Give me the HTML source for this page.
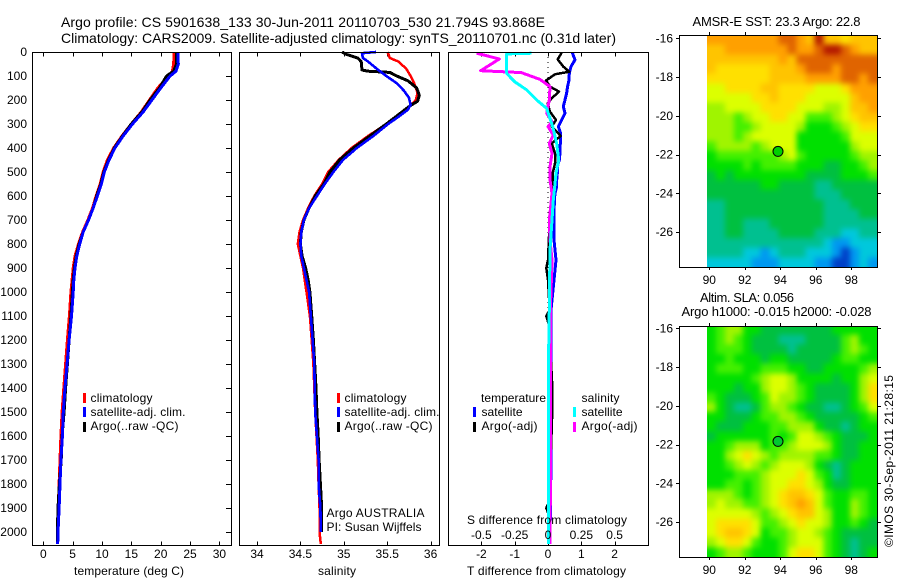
<!DOCTYPE html>
<html><head><meta charset="utf-8"><title>Argo profile</title>
<style>
html,body{margin:0;padding:0;background:#fff}
svg{display:block}
text{font-family:"Liberation Sans",Arial,sans-serif;font-size:12px;fill:#000}
.t{font-size:14px}.m{font-size:13px}
</style></head><body>
<svg id="chart" xmlns="http://www.w3.org/2000/svg" width="900" height="580" viewBox="0 0 900 580">
<defs>
<filter id="mapSmooth" filterUnits="userSpaceOnUse" x="660" y="0" width="240" height="580" color-interpolation-filters="sRGB"><feGaussianBlur stdDeviation="3"/></filter>
</defs>
<text class="t" x="61" y="27" textLength="484" lengthAdjust="spacing">Argo profile: CS 5901638_133 30-Jun-2011 20110703_530 21.794S 93.868E</text>
<text class="t" x="61" y="43" textLength="555" lengthAdjust="spacing">Climatology: CARS2009. Satellite-adjusted climatology: synTS_20110701.nc (0.31d later)</text>
<text x="74" y="575" textLength="110" lengthAdjust="spacing">temperature (deg C)</text>
<text x="318" y="575" textLength="38" lengthAdjust="spacing">salinity</text>
<text x="467" y="575" textLength="159" lengthAdjust="spacing">T difference from climatology</text>
<text x="467" y="524" textLength="160" lengthAdjust="spacing">S difference from climatology</text>
<text x="90.5" y="402" textLength="62" lengthAdjust="spacing">climatology</text>
<text x="90.5" y="416" textLength="95" lengthAdjust="spacing">satellite-adj. clim.</text>
<text x="90.5" y="430" textLength="88" lengthAdjust="spacing">Argo(..raw -QC)</text>
<text x="344.5" y="402" textLength="62" lengthAdjust="spacing">climatology</text>
<text x="344.5" y="416" textLength="95" lengthAdjust="spacing">satellite-adj. clim.</text>
<text x="344.5" y="430" textLength="88" lengthAdjust="spacing">Argo(..raw -QC)</text>
<text x="326.5" y="517" textLength="98" lengthAdjust="spacing">Argo AUSTRALIA</text>
<text x="326.5" y="531" textLength="95" lengthAdjust="spacing">PI: Susan Wijffels</text>
<text x="481" y="402" textLength="65" lengthAdjust="spacing">temperature</text>
<text x="481.5" y="416" textLength="41" lengthAdjust="spacing">satellite</text>
<text x="481.5" y="430" textLength="56" lengthAdjust="spacing">Argo(-adj)</text>
<text x="581.5" y="402" textLength="38" lengthAdjust="spacing">salinity</text>
<text x="581.5" y="416" textLength="41" lengthAdjust="spacing">satellite</text>
<text x="581.5" y="430" textLength="56" lengthAdjust="spacing">Argo(-adj)</text>
<text class="m" x="692.5" y="26" textLength="168" lengthAdjust="spacing">AMSR-E SST: 23.3 Argo: 22.8</text>
<text class="m" x="700" y="302" textLength="94" lengthAdjust="spacing">Altim. SLA: 0.056</text>
<text class="m" x="681.5" y="316" textLength="190" lengthAdjust="spacing">Argo h1000: -0.015 h2000: -0.028</text>
<text x="0" y="0" transform="translate(893,547) rotate(-90)" textLength="172" lengthAdjust="spacing">©IMOS 30-Sep-2011 21:28:15</text>
</svg>
<script>
// ---- axis data ----
const depthTicks = [0,100,200,300,400,500,600,700,800,900,1000,1100,1200,1300,1400,1500,1600,1700,1800,1900,2000];
const tempTicks = [0,5,10,15,20,25,30];
const salTicks = [34,34.5,35,35.5,36];
const tDiffTicks = [-2,-1,0,1,2];
const sDiffTicks = [-0.5,-0.25,0,0.25,0.5];
const sDiffTickLabels = ['-0.5','-0.25','0','0.25','0.5'];
const mapLonTicks = [90,92,94,96,98];
const mapLatTicks = [-16,-18,-20,-22,-24,-26];
const argoLon = 93.868;
const argoLat = -21.794;

// ---- temperature profile ----
const tempDepths = [0,50,80,100,150,200,250,300,350,400,450,500,550,600,650,700,750,800,850,900,950,1000,1100,1200,1300,1400,1500,1600,1700,1800,1900,2000,2050];
const tempClim = [22.3,22.2,22.0,21.3,19.5,18.1,16.7,15.0,13.4,12.0,10.9,10.2,9.7,9.0,8.4,7.6,6.7,6.0,5.4,5.1,4.9,4.7,4.45,4.1,3.8,3.5,3.2,3.0,2.85,2.7,2.55,2.45,2.4];
const tempArgo = [22.7,22.7,22.2,21.0,19.8,18.2,16.8,15.0,13.5,12.1,11.1,10.3,9.8,9.1,8.5,7.7,6.8,6.1,5.6,5.3,5.1,4.95,4.7,4.4,4.1,3.8,3.55,3.2,3.05,2.75,2.5,2.4,2.4];
const tempSat = [22.9,23.0,22.6,21.6,20.0,18.5,17.0,15.2,13.6,12.2,11.2,10.4,9.9,9.2,8.5,7.7,6.8,6.2,5.7,5.4,5.2,5.1,4.8,4.4,4.05,3.7,3.4,3.25,3.0,2.85,2.7,2.5,2.45];

// ---- salinity profile ----
const salClimDepths = [0,25,40,70,100,130,170,200,220,250,300,350,400,450,500,550,600,650,700,750,800,850,900,950,1000,1100,1200,1300,1400,1500,1600,1700,1800,1900,2000,2050];
const salClim = [35.505,35.53,35.63,35.72,35.77,35.81,35.85,35.83,35.78,35.67,35.49,35.28,35.09,34.94,34.82,34.75,34.66,34.59,34.53,34.49,34.47,34.50,34.53,34.55,34.57,34.61,34.63,34.65,34.66,34.67,34.685,34.70,34.71,34.72,34.72,34.735];
const salSatDepths = [0,5,25,40,70,100,130,160,190,220,240,270,300,350,400,450,500,550,600,650,700,750,800,850,900,950,1000,1100,1200,1300,1400,1500,1600,1700,1800,1900,2000];
const salSat = [35.37,35.21,35.22,35.28,35.38,35.49,35.61,35.69,35.75,35.77,35.74,35.63,35.51,35.34,35.15,34.99,34.88,34.78,34.69,34.60,34.54,34.51,34.50,34.51,34.54,34.57,34.60,34.62,34.64,34.66,34.665,34.67,34.69,34.71,34.71,34.73,34.735];
const salArgoDepths = [0,10,25,40,75,80,85,100,120,150,180,205,225,250,300,350,400,450,500,550,600,650,700,750,800,850,900,950,1000,1100,1200,1300,1400,1500,1600,1700,1800,1900,2000];
const salArgo = [34.98,35.03,35.16,35.20,35.21,35.28,35.53,35.61,35.74,35.84,35.87,35.85,35.76,35.67,35.49,35.30,35.11,34.95,34.84,34.77,34.67,34.60,34.54,34.51,34.50,34.52,34.56,34.59,34.61,34.63,34.65,34.665,34.68,34.69,34.705,34.715,34.73,34.745,34.745];

// ---- difference profiles ----
const tDiffSatDepths = [3,33,61,89,117,144,172,200,228,255,283,311,339,367,394,422,450,478,505,533,561,589,617,783,867,992,1075,1450,1867,2000,2050];
const tDiffSat = [0.73,0.81,0.69,0.64,0.63,0.59,0.56,0.51,0.46,0.51,0.41,0.31,0.38,0.38,0.36,0.36,0.34,0.28,0.28,0.26,0.26,0.21,0.19,0.18,0.24,0.15,0.09,0.09,0.08,0.06,0.03];
const tDiffArgoDepths = [3,31,61,82,93,119,144,165,193,214,249,283,311,350,381,422,464,505,561,617,700,867,900,950,1075,1100,1138,1367,1492,1658,1867,1900,1930,2000];
const tDiffArgo = [0.41,0.29,0.46,0.64,0.21,-0.06,0.06,0.33,0.11,-0.01,0.06,0.24,0.11,0.38,0.11,0.21,0.21,0.14,0.14,0.11,0.05,0,-0.05,0,0.05,-0.05,0.03,0.12,0.13,0.09,0.06,-0.05,0.03,0.03];
const sDiffArgoDepths = [5,29,78,86,114,144,200,255,290,311,346,381,422,478,533,589,700,783,867,1033,1617,2050];
const sDiffArgo = [-0.535,-0.365,-0.505,-0.2,-0.06,0.015,0.01,-0.01,0.03,0,0.04,0.01,0.03,0.015,0.015,0.03,0.01,0.015,0.03,0.02,0.02,0.015];
const sDiffSatDepths = [5,8,47,89,124,158,200,235,311,381,450,505,561,617,825,1075,1283,2050];
const sDiffSat = [-0.1225,-0.31,-0.31,-0.31,-0.25,-0.16,-0.085,-0.01,0.035,0.065,0.08,0.06,0.05,0.04,0.015,0.01,0.004,0.004];

// ---- map colour levels (0 = deep blue ... 13 = dark red) ----
const mapPalette = ['#0040c8','#0098f0','#00c8dc','#00c090','#00c040','#00e000','#44f000','#a0f400','#dcff00','#ffe000','#ffc400','#ffa000','#e06400','#b41800'];
const sstGrid = [
[11,11,11,11,11,11,11,11,12,12,11,10,13,10,10,9,10,10,10],
[10,10,11,11,11,11,11,11,11,12,11,11,12,13,13,12,11,10,10],
[10,10,10,10,10,10,10,10,11,10,12,12,12,12,12,12,12,12,12],
[10,9,9,9,9,9,9,10,10,10,11,12,12,12,11,12,12,12,12],
[9,9,9,9,9,9,9,10,10,10,10,11,11,11,11,12,12,11,12],
[8,8,9,9,9,9,10,10,9,9,9,9,8,8,8,9,11,11,11],
[8,8,8,8,8,9,9,10,9,9,9,8,8,8,8,8,10,11,11],
[7,7,8,8,8,8,9,9,9,9,8,8,8,7,7,8,10,10,11],
[7,7,7,6,7,8,8,9,9,8,8,6,6,6,7,8,9,10,10],
[7,7,7,6,6,7,8,8,8,8,7,5,5,5,6,7,8,9,9],
[7,7,7,6,7,8,8,8,8,8,5,5,5,5,5,6,8,8,8],
[6,7,7,7,7,6,7,8,8,8,5,5,5,5,5,5,7,8,8],
[5,6,6,6,6,6,6,6,7,8,6,5,5,5,5,5,6,7,7],
[5,5,5,5,6,5,6,6,6,6,5,5,5,4,4,5,5,6,7],
[4,5,4,5,5,5,5,5,5,5,5,4,4,4,4,5,5,5,6],
[4,4,4,4,4,4,5,5,4,4,4,4,3,3,4,4,4,4,4],
[4,4,4,4,4,4,4,4,4,4,4,4,3,3,3,4,4,4,4],
[3,3,4,4,4,4,4,4,4,4,4,4,4,3,3,3,4,4,4],
[3,3,4,4,4,4,4,4,4,4,4,4,4,3,3,3,3,4,4],
[3,3,4,4,3,3,3,4,4,4,4,4,4,3,3,3,3,3,3],
[3,3,4,4,3,3,3,3,4,4,4,4,3,3,3,2,2,3,3],
[3,3,3,3,3,3,3,3,3,3,3,3,3,2,1,1,2,2,2],
[3,3,3,3,2,2,1,2,3,3,3,2,2,2,1,0,1,2,2],
[2,2,2,2,2,1,1,1,2,2,2,2,1,1,0,0,1,2,1]];
const slaGrid = [
[5,6,7,7,5,5,4,4,4,4,4,4,4,4,5,5,5,5,5],
[5,6,7,6,5,4,4,4,3,3,3,4,4,4,4,6,7,5,5],
[5,6,6,6,5,4,4,4,4,3,4,4,4,4,4,6,7,6,5],
[5,5,6,5,5,5,4,5,5,4,4,4,4,4,5,6,6,5,5],
[5,6,6,6,5,5,6,6,6,5,5,4,4,5,5,5,5,6,7],
[5,5,5,5,5,6,7,8,8,7,5,5,5,5,4,5,5,7,8],
[5,5,5,4,5,5,7,8,8,7,6,5,4,4,4,4,5,7,9],
[6,5,4,4,4,5,6,8,7,7,6,5,4,4,4,4,5,7,9],
[7,5,4,3,3,4,6,7,7,6,5,4,4,3,3,4,5,6,8],
[5,5,4,4,4,5,6,6,7,7,6,5,4,4,4,4,4,5,6],
[5,4,4,4,5,5,5,6,6,7,7,7,5,4,4,3,4,5,5],
[4,5,5,5,5,5,5,6,5,6,8,8,7,6,5,4,4,4,5],
[5,5,6,7,7,7,5,6,6,7,8,8,8,7,5,4,4,5,5],
[5,5,7,8,9,8,7,6,7,7,7,7,6,6,5,4,4,5,5],
[5,5,6,7,8,7,6,7,8,8,8,7,5,4,3,4,5,5,5],
[5,5,5,6,6,6,7,8,8,8,9,8,6,5,3,4,5,5,5],
[5,5,6,6,5,6,7,8,8,9,9,8,7,5,4,4,5,5,5],
[7,7,7,6,5,6,7,8,9,10,10,9,8,6,5,5,6,6,5],
[7,8,7,7,6,6,7,8,9,10,11,10,8,6,5,5,7,6,5],
[8,8,8,8,8,7,6,7,8,9,10,10,8,7,5,5,7,6,5],
[8,9,9,9,9,8,6,6,7,8,9,8,8,7,5,5,6,5,4],
[8,9,10,10,9,8,5,6,6,7,8,8,7,6,5,4,4,4,4],
[7,8,9,9,8,6,5,5,6,7,8,8,8,6,5,4,3,4,4],
[5,6,7,7,6,5,5,5,6,8,9,9,8,6,5,4,3,4,5]];
const mapLonStart = 89.87;
const mapLonStep = 0.504;
const mapLatStart = -15.83;
const mapLatStep = -0.499;

// ---- scales ----
const NS = 'http://www.w3.org/2000/svg';
const svg = document.getElementById('chart');
const yDepth = d => 52 + d * 0.24;
const xTemp = v => 43.3 + v * 5.87;
const xSal = v => 257 + (v - 34) * 86.8;
const xTDiff = v => 548 + v * 33.3;
const xSDiff = v => 548 + v * 133.3;
const xLon = v => 709.3 + (v - 90) * 17.75;
const ySst = v => 38.3 + (-16 - v) * 19.37;
const ySla = v => 328.3 + (-16 - v) * 19.37;

function el(tag, attrs, parent) {
  const e = document.createElementNS(NS, tag);
  for (const k in attrs) e.setAttribute(k, attrs[k]);
  (parent || svg).appendChild(e);
  return e;
}
function tickLine(x1, y1, x2, y2, name) {
  const e = el('line', {x1: x1, y1: y1, x2: x2, y2: y2, stroke: '#000', 'stroke-width': 1, 'shape-rendering': 'crispEdges'});
  
  
}
function label(x, y, str, anchor, cls, name) {
  const e = el('text', {x: x, y: y, 'text-anchor': anchor});
  if (cls) e.setAttribute('class', cls);
  e.textContent = str;
  
  
}
function frame(x, y, w, h, name) {
  const e = el('rect', {x: x, y: y, width: w, height: h, fill: 'none', stroke: '#000', 'stroke-width': 1, 'shape-rendering': 'crispEdges'});
  
  
}
function profile(depths, values, xs, color, width, name) {
  const pts = values.map((v, i) => xs(v).toFixed(1) + ',' + yDepth(depths[i]).toFixed(1)).join(' ');
  const e = el('polyline', {points: pts, fill: 'none', stroke: color, 'stroke-width': width, 'stroke-linejoin': 'round', 'shape-rendering': 'crispEdges'});
  
  
}
function swatch(x, y, color, name) {
  const e = el('rect', {x: x - 1, y: y, width: 3, height: 10, fill: color, 'shape-rendering': 'crispEdges'});
  
  
}

// ---- profile panels ----
const panelTop = 52.5, panelBottom = 545.5;
depthTicks.forEach(d => {
  label(27, yDepth(d) + 4, String(d), 'end', '', 'depth-tick-label');
  tickLine(226, Math.round(yDepth(d)) + 0.5, 231, Math.round(yDepth(d)) + 0.5, 'depth-tick');
});
function xAxis(ticks, labels, xs, labelY, name) {
  ticks.forEach((t, i) => {
    const x = Math.round(xs(t)) + 0.5;
    tickLine(x, panelTop, x, panelTop + 4, name + '-top-tick');
    tickLine(x, panelBottom - 4, x, panelBottom, name + '-bottom-tick');
    label(xs(t), labelY, labels[i], 'middle', '', name + '-tick-label');
  });
}
xAxis(tempTicks, tempTicks.map(String), xTemp, 558, 'temperature');
xAxis(salTicks, salTicks.map(String), xSal, 558, 'salinity');
xAxis(tDiffTicks, tDiffTicks.map(String), xTDiff, 558, 't-difference');
sDiffTicks.forEach((t, i) => label(xSDiff(t), 539, sDiffTickLabels[i], 'middle', '', 's-difference-tick-label'));

const zero = el('line', {x1: xTDiff(0), y1: 52, x2: xTDiff(0), y2: 545, stroke: '#000', 'stroke-width': 1, 'stroke-dasharray': '1 4', 'shape-rendering': 'crispEdges'});



profile(tempDepths, tempClim, xTemp, '#ff0000', 3, 'temperature-climatology-line');
profile(tempDepths, tempArgo, xTemp, '#000000', 3, 'temperature-argo-line');
profile(tempDepths, tempSat, xTemp, '#0000ff', 3, 'temperature-satellite-line');
profile(salClimDepths, salClim, xSal, '#ff0000', 2.5, 'salinity-climatology-line');
profile(salArgoDepths, salArgo, xSal, '#000000', 3, 'salinity-argo-line');
profile(salSatDepths, salSat, xSal, '#0000ff', 2.6, 'salinity-satellite-line');
profile(tDiffSatDepths, tDiffSat, xTDiff, '#0000ff', 3, 't-difference-satellite-line');
profile(tDiffArgoDepths, tDiffArgo, xTDiff, '#000000', 2.5, 't-difference-argo-line');
profile(sDiffArgoDepths, sDiffArgo, xSDiff, '#ff00ff', 3, 's-difference-argo-line');
profile(sDiffSatDepths, sDiffSat, xSDiff, '#00ffff', 3, 's-difference-satellite-line');

frame(32.5, panelTop, 199, 493, 'temperature-panel-frame');
frame(239.5, panelTop, 200, 493, 'salinity-panel-frame');
frame(448.5, panelTop, 200, 493, 'difference-panel-frame');

[84, 338].forEach(x => {
  swatch(x, 393, '#ff0000', 'legend-swatch-climatology');
  swatch(x, 407, '#0000ff', 'legend-swatch-satellite');
  swatch(x, 422, '#000000', 'legend-swatch-argo');
});
swatch(474, 407, '#0000ff', 'legend-swatch-t-satellite');
swatch(474, 422, '#000000', 'legend-swatch-t-argo');
swatch(574, 407, '#00ffff', 'legend-swatch-s-satellite');
swatch(574, 422, '#ff00ff', 'legend-swatch-s-argo');

// ---- maps ----
function drawMap(grid, yLat, frameTop, frameBottom, name, markerFill) {
  const left = xLon(mapLonStart);
  const right = 877;
  const bleed = 14;
  const clip = el('clipPath', {id: name + '-clip'}, svg.querySelector('defs'));
  el('rect', {x: left, y: frameTop, width: right - left, height: frameBottom - frameTop}, clip);
  const outer = el('g', {'clip-path': 'url(#' + name + '-clip)'});
  
  
  const inner = el('g', {filter: 'url(#mapSmooth)'}, outer);
  grid.forEach((row, r) => {
    const y0 = r === 0 ? frameTop - bleed : yLat(mapLatStart + r * mapLatStep);
    const y1 = r === grid.length - 1 ? frameBottom + bleed : yLat(mapLatStart + (r + 1) * mapLatStep);
    row.forEach((v, c) => {
      const x0 = c === 0 ? left - bleed : xLon(mapLonStart + c * mapLonStep);
      const x1 = c === row.length - 1 ? right + bleed : xLon(mapLonStart + (c + 1) * mapLonStep);
      const cell = el('rect', {x: x0.toFixed(2), y: y0.toFixed(2), width: (x1 - x0 + 0.5).toFixed(2), height: (y1 - y0 + 0.5).toFixed(2), fill: mapPalette[v], 'shape-rendering': 'crispEdges'}, inner);
      
      
    });
  });
  frame(679.5, frameTop + 0.5, 198, frameBottom - frameTop, name + '-frame');
  mapLonTicks.forEach(t => {
    const x = Math.round(xLon(t)) + 0.5;
    tickLine(x, frameTop - 3, x, frameTop, name + '-lon-top-tick');
    tickLine(x, frameBottom, x, frameBottom + 3, name + '-lon-bottom-tick');
    label(xLon(t), frameBottom + 17, String(t), 'middle', '', name + '-lon-tick-label');
  });
  mapLatTicks.forEach(t => {
    const y = Math.round(yLat(t)) + 0.5;
    tickLine(676, y, 679, y, name + '-lat-left-tick');
    tickLine(878, y, 881, y, name + '-lat-right-tick');
    label(673, yLat(t) + 4, String(t), 'end', '', name + '-lat-tick-label');
  });
  const m = el('circle', {cx: xLon(argoLon).toFixed(1), cy: (yLat(argoLat) + 0.9).toFixed(1), r: 5, fill: markerFill, stroke: '#000', 'stroke-width': 1});
  
  
}
drawMap(sstGrid, ySst, 35, 267, 'sst-map', '#00d000');
drawMap(slaGrid, ySla, 326, 557, 'sla-map', '#00c830');

// keep all text above the profile lines, as in the original figure
svg.querySelectorAll('text').forEach(t => svg.appendChild(t));
</script>
</body></html>
